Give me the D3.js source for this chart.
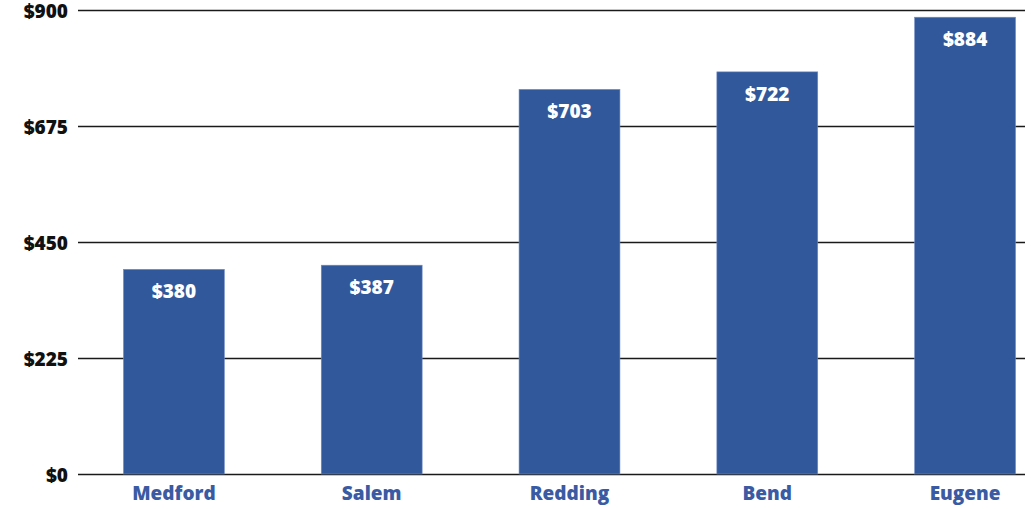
<!DOCTYPE html>
<html><head><meta charset="utf-8">
<script src="https://cdn.jsdelivr.net/npm/d3@7"></script>
<style>body{margin:0;background:#fff}svg{display:block}text{font-family:"Open Sans",sans-serif;font-weight:800}</style>
</head><body>
<script>
const categories = ["Medford","Salem","Redding","Bend","Eugene"];
// bar heights as drawn in the picture
const barValues = [397, 405, 746, 780, 886];
// value labels printed on the bars
const valueLabels = ["$380","$387","$703","$722","$884"];
const tickValues = [0,225,450,675,900];

const W=1033,H=509;
const svg=d3.select("body").append("svg").attr("width",W).attr("height",H);
const y=d3.scaleLinear().domain([0,900]).range([474,10]);
const x=d3.scaleBand().domain(categories).range([75,1064]).paddingInner(0.49).paddingOuter(0.245);

const yAxis=d3.axisLeft(y).tickValues(tickValues).tickFormat(d=>"$"+d).tickSize(-(1025-78)).tickPadding(10);
const gy=svg.append("g").attr("transform","translate(78,0)").call(yAxis);
gy.select(".domain").remove();
gy.selectAll(".tick line").attr("stroke","#1a1a1a").attr("stroke-width",1.6);
gy.selectAll(".tick text").attr("fill","#111").attr("font-size",19).attr("dy","0.38em");

svg.append("g").selectAll("rect").data(categories).join("rect")
  .attr("x",d=>x(d)).attr("width",x.bandwidth())
  .attr("y",(d,i)=>y(barValues[i])).attr("height",(d,i)=>y(0)-y(barValues[i]))
  .attr("fill","#32589c").attr("stroke","#6f8cc4").attr("stroke-width",0.6);

svg.append("g").selectAll("text").data(categories).join("text")
  .attr("x",d=>x(d)+x.bandwidth()/2).attr("y",(d,i)=>y(barValues[i])+29)
  .attr("text-anchor","middle").attr("fill","#fff").attr("font-size",19)
  .text((d,i)=>valueLabels[i]);

const xAxis=d3.axisBottom(x).tickSize(0).tickPadding(13);
const gx=svg.append("g").attr("transform","translate(0,474)").call(xAxis);
gx.select(".domain").remove();
gx.selectAll(".tick text").attr("fill","#3a5ba3").attr("font-size",19);
</script>
</body></html>
